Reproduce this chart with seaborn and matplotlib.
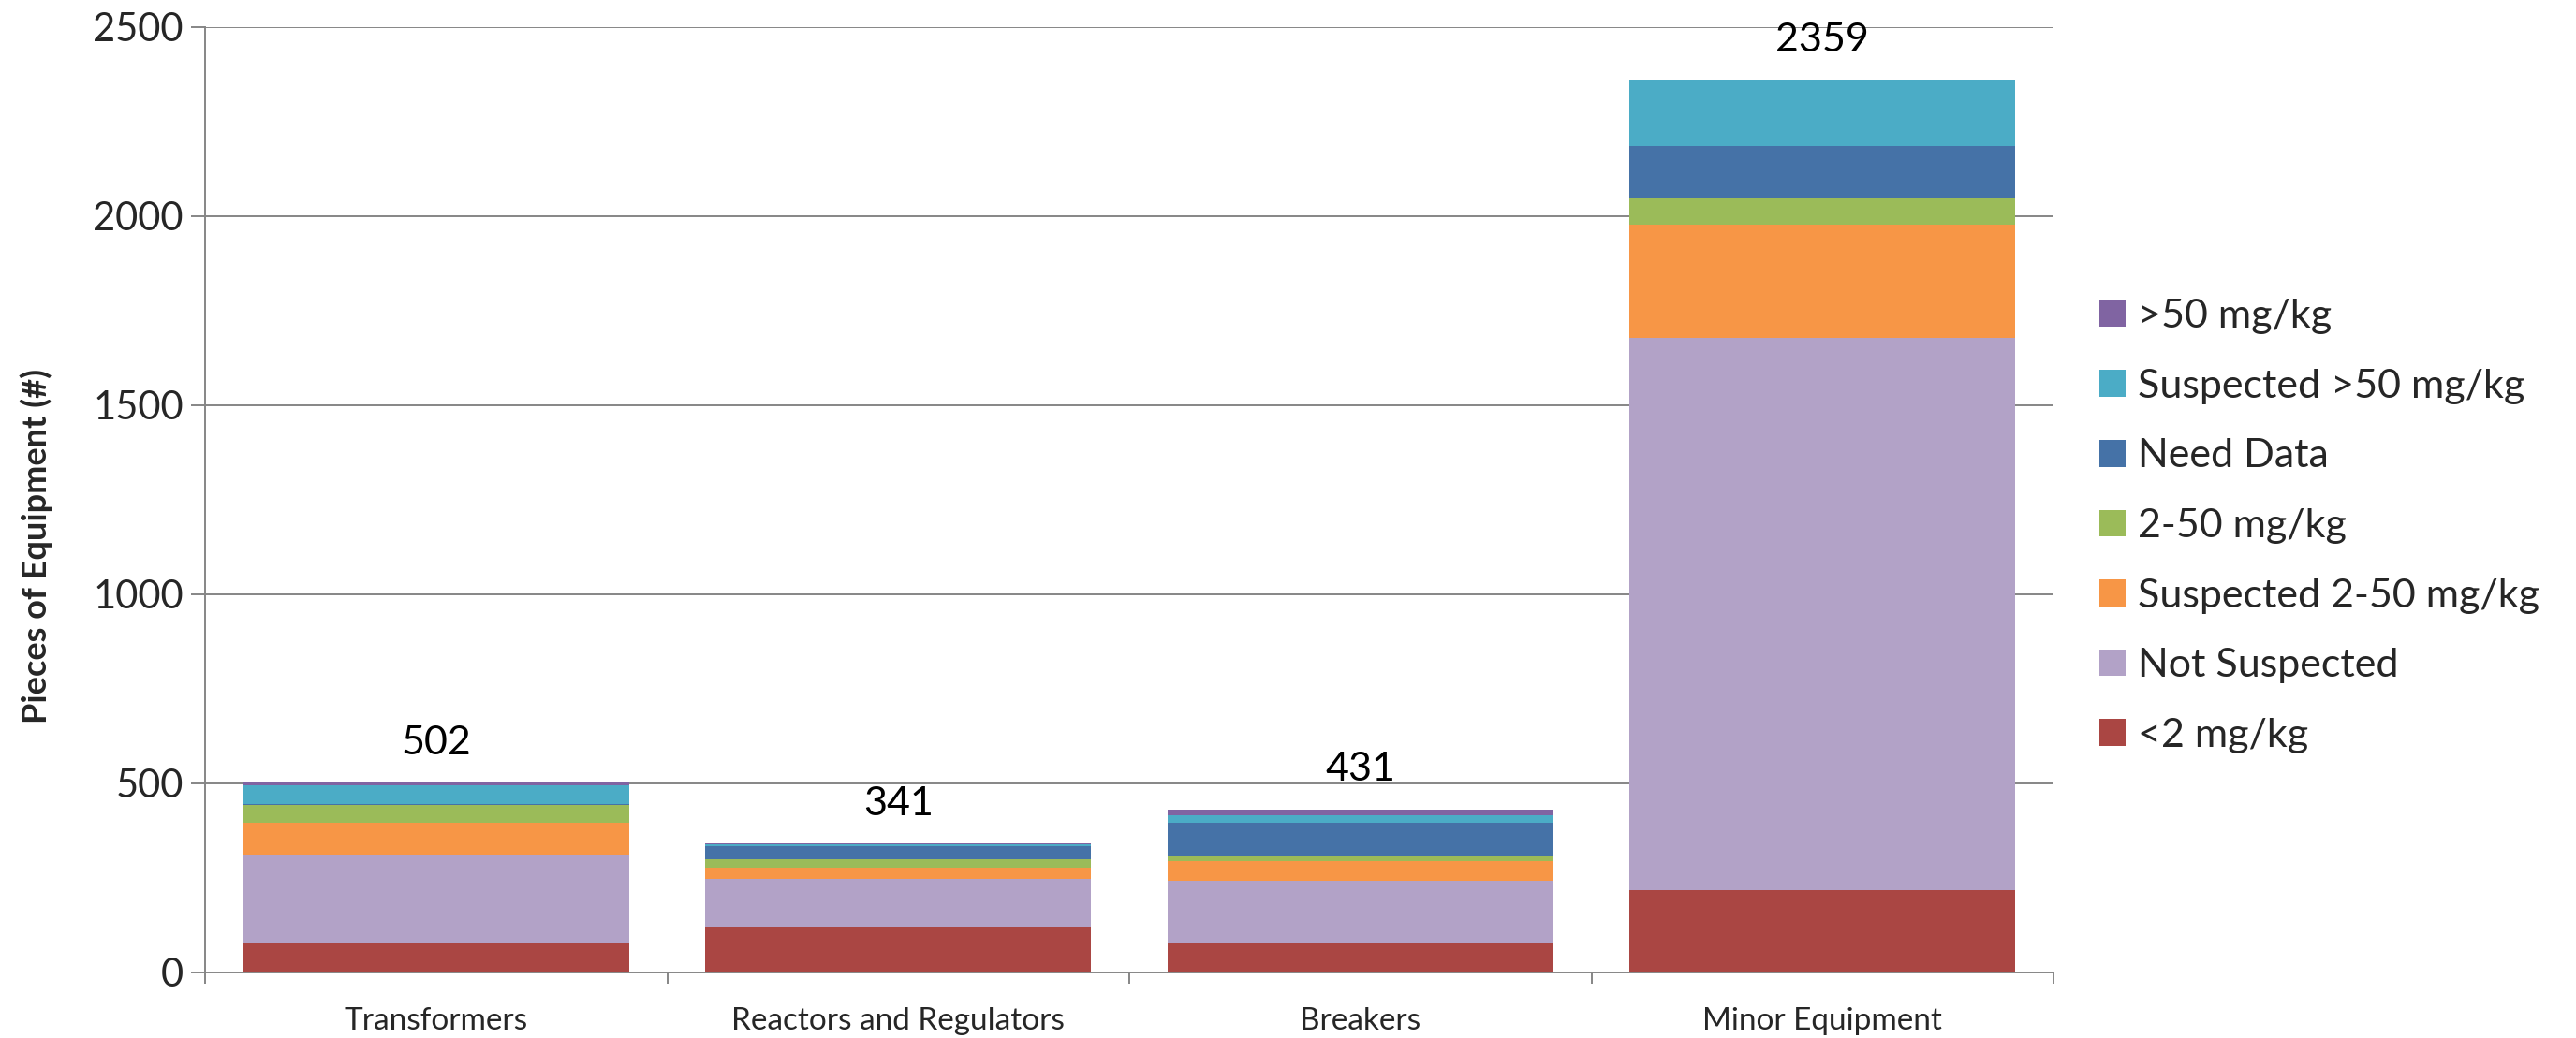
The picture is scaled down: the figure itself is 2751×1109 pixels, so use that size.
import numpy as np
import pandas as pd
import matplotlib
matplotlib.use("Agg")
import matplotlib.pyplot as plt
from matplotlib.ticker import FixedLocator, NullFormatter
import seaborn as sns

# Equipment categories
categories = ["Transformers", "Reactors and Regulators", "Breakers", "Minor Equipment"]

# PCB status counts per category (bottom of the stack first)
lt_2 = [78, 122, 77, 218]             # <2 mg/kg
not_suspected = [234, 126, 165, 1459]  # Not Suspected
susp_2_50 = [84, 28, 52, 301]          # Suspected 2-50 mg/kg
r_2_50 = [47, 23, 12, 70]              # 2-50 mg/kg
need_data = [3, 34, 91, 138]           # Need Data
susp_gt_50 = [49, 5, 18, 173]          # Suspected >50 mg/kg
gt_50 = [7, 3, 16, 0]                  # >50 mg/kg

series_names = ["<2 mg/kg", "Not Suspected", "Suspected 2-50 mg/kg", "2-50 mg/kg",
                "Need Data", "Suspected >50 mg/kg", ">50 mg/kg"]
series_values = [lt_2, not_suspected, susp_2_50, r_2_50, need_data, susp_gt_50, gt_50]
series_colors = ["#AA4643", "#B2A2C7", "#F79646", "#9BBB59", "#4572A7", "#4BACC6", "#8064A2"]

y_ticks = [0, 500, 1000, 1500, 2000, 2500]

# Cumulative heights so each series is drawn as a layer over the ones above it
cum = np.cumsum(np.array(series_values), axis=0)
rows = []
for name, heights in zip(series_names, cum):
    for cat, h in zip(categories, heights):
        rows.append({"category": cat, "series": name, "height": h})
df = pd.DataFrame(rows)
totals = cum[-1]

sns.set_style("white")
plt.rcParams["font.family"] = ["Lato", "DejaVu Sans"]

fig = plt.figure(figsize=(27.51, 11.09), dpi=100)
ax = fig.add_axes([219 / 2751, 70 / 1109, (2193 - 219) / 2751, (1039 - 29) / 1109])

hue_order = series_names[::-1]
palette = dict(zip(series_names, series_colors))
sns.barplot(data=df, x="category", y="height", hue="series", hue_order=hue_order,
            palette=palette, dodge=False, width=0.835, saturation=1,
            linewidth=0, order=categories, ax=ax, errorbar=None)

# Axis styling
grid_color = "#868686"
ax.set_ylim(0, 2500)
ax.set_xlim(-0.5, len(categories) - 0.5)
ax.yaxis.set_major_locator(FixedLocator(y_ticks))
ax.set_yticklabels([str(t) for t in y_ticks], fontsize=30)
ax.yaxis.grid(True, color=grid_color, linewidth=1.4)
ax.set_axisbelow(True)
for side in ["top", "right"]:
    ax.spines[side].set_visible(False)
for side in ["left", "bottom"]:
    ax.spines[side].set_color(grid_color)
    ax.spines[side].set_linewidth(1.4)
ax.tick_params(axis="y", direction="out", length=10.8, width=1.4, color=grid_color, pad=6, left=True)

ax.set_xticks(range(len(categories)))
ax.set_xticklabels(categories, fontsize=24)
ax.tick_params(axis="x", which="major", length=0, pad=27)
ax.xaxis.set_minor_locator(FixedLocator(np.arange(-0.5, len(categories), 1.0)))
ax.xaxis.set_minor_formatter(NullFormatter())
ax.tick_params(axis="x", which="minor", direction="out", length=8.6, width=1.4,
               color=grid_color, bottom=True)

ax.set_xlabel("")
ax.set_ylabel("Pieces of Equipment (#)", fontsize=26, fontweight="bold")
ax.yaxis.set_label_coords(-0.0826, 0.4515)

# Total labels above each stack
for i, total in enumerate(totals):
    ax.annotate(f"{total}", xy=(i, total), xytext=(0, 22), textcoords="offset points",
                ha="center", va="baseline", fontsize=31, color="black")

# Legend on the right, top series first
handles, labels = ax.get_legend_handles_labels()
if ax.get_legend() is not None:
    ax.get_legend().remove()
fig.legend(handles, labels, loc="center left", bbox_to_anchor=(2242 / 2751, 547 / 1109),
           frameon=False, fontsize=31, handlelength=0.65, handleheight=0.65,
           handletextpad=0.3, labelspacing=0.85, borderpad=0, borderaxespad=0)

fig.savefig("out.png", dpi=100, facecolor="white")
